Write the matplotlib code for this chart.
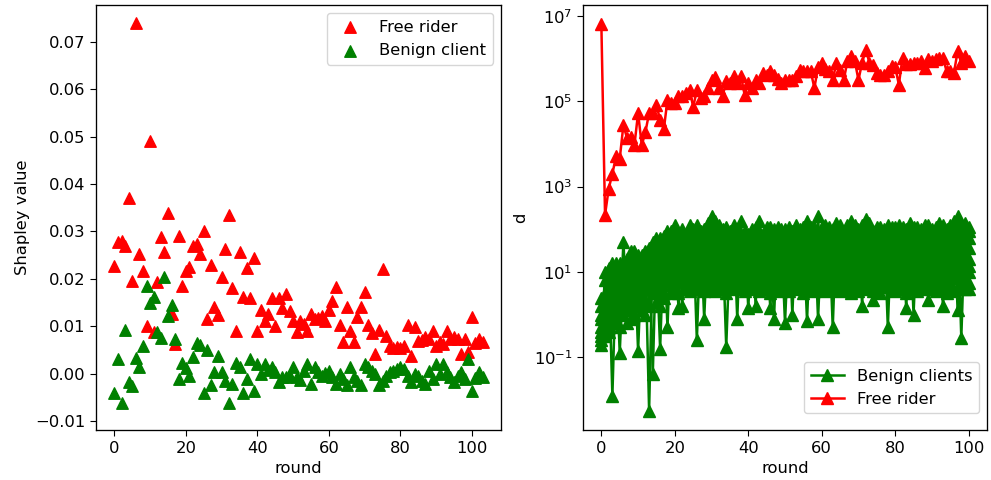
import matplotlib
matplotlib.use("Agg")
import matplotlib.pyplot as plt

plt.rcParams['font.size'] = 11.8
plt.rcParams['axes.linewidth'] = 0.95
plt.rcParams['xtick.major.size'] = 4.1
plt.rcParams['ytick.major.size'] = 4.1
plt.rcParams['ytick.minor.size'] = 2.4

# ---------------- Left panel: Shapley values ----------------
shapley_rounds = list(range(104))

shapley_free_rider = [
    0.0228, 0.0277, 0.028, 0.027, 0.037, 0.0196, 0.074, 0.0253, 0.0217, 0.0101,
    0.049, 0.0087, 0.0193, 0.0288, 0.0256, 0.0338, 0.0126, 0.0063, 0.029, 0.0185,
    0.0217, 0.0224, 0.027, 0.0274, 0.0253, 0.0302, 0.0115, 0.023, 0.014, 0.0124,
    0.0204, 0.0263, 0.0335, 0.018, 0.0091, 0.0256, 0.0161, 0.0223, 0.016, 0.0243,
    0.0089, 0.0134, 0.011, 0.0125, 0.0159, 0.01, 0.0159, 0.0139, 0.0168, 0.0133,
    0.011, 0.0087, 0.0112, 0.0105, 0.0091, 0.0126, 0.0115, 0.0118, 0.0122, 0.0112,
    0.0135, 0.0154, 0.0182, 0.0103, 0.0066, 0.014, 0.0091, 0.0066, 0.0119, 0.014,
    0.0172, 0.0103, 0.0085, 0.0042, 0.0092, 0.0221, 0.008, 0.0059, 0.0055, 0.0057,
    0.0055, 0.0059, 0.0103, 0.0038, 0.0099, 0.0068, 0.007, 0.0077, 0.0073, 0.0091,
    0.0059, 0.0066, 0.0063, 0.0091, 0.0073, 0.0077, 0.0073, 0.0042, 0.0073, 0.0045,
    0.0119, 0.0065, 0.0073, 0.0066]

shapley_benign = [
    -0.004, 0.003, -0.0063, 0.0093, -0.0018, -0.0026, 0.0034, 0.0013, 0.0059, 0.0185,
    0.015, 0.0161, 0.0087, 0.0075, 0.0203, 0.0122, 0.0145, 0.0073, -0.0011, 0.0022,
    0.0012, -0.0005, 0.0035, 0.0065, 0.0061, -0.0041, 0.0049, -0.0025, 0.0003, 0.0038,
    0.0003, -0.0015, -0.0061, -0.0022, 0.0022, 0.0013, -0.0041, -0.0012, 0.0031, -0.0037,
    0.002, -0.0001, 0.002, 0.0008, 0.0015, 0.0003, -0.0018, -0.0008, -0.0008, -0.0006,
    0.0015, -0.0008, -0.0013, 0.0005, 0.002, -0.0022, 0.0013, 0.0003, -0.0004, 0.0002,
    0.0006, -0.0008, -0.0022, -0.0001, -0.0012, -0.0025, 0.0013, -0.0008, -0.0015, -0.0025,
    0.002, 0.0013, 0.0005, -0.0001, -0.0025, -0.0015, -0.0004, 0.0003, 0.0006, 0.0009,
    0.0013, 0.001, -0.0005, -0.0018, -0.0001, -0.0004, -0.0015, -0.0022, 0.0005, -0.0012,
    0.002, -0.0001, 0.002, 0.0003, -0.0008, -0.0018, -0.0004, 0.0003, -0.0011, 0.0031,
    -0.0036, -0.001, 0.0003, -0.0008]

# ---------------- Right panel: d (given as log10 d) ----------------
d_rounds = list(range(101))

free_rider_log_d = [
    6.80, 2.34, 2.95, 3.30, 3.71, 3.65, 4.44, 4.13, 4.17, 3.97,
    4.72, 3.97, 4.28, 4.72, 4.72, 4.91, 4.56, 4.34, 5.03, 4.95,
    4.95, 5.11, 5.13, 5.19, 5.27, 4.87, 5.25, 5.07, 5.11, 5.31,
    5.49, 5.57, 5.31, 5.11, 5.47, 5.43, 5.60, 5.43, 5.60, 5.15,
    5.43, 5.31, 5.50, 5.43, 5.66, 5.62, 5.70, 5.62, 5.52, 5.43,
    5.49, 5.50, 5.50, 5.60, 5.74, 5.70, 5.70, 5.70, 5.31, 5.80,
    5.90, 5.75, 5.70, 5.50, 5.90, 5.74, 5.50, 5.94, 6.05, 5.94,
    5.50, 5.90, 6.21, 5.90, 5.84, 5.66, 5.62, 5.62, 5.70, 5.82,
    5.80, 5.39, 6.02, 5.86, 5.86, 5.90, 5.90, 5.94, 5.78, 5.98,
    5.95, 5.98, 6.02, 6.02, 5.70, 5.70, 5.66, 6.17, 5.90, 6.05,
    5.94]

benign1_log_d = [
    0.4, -0.5, 1.1, -1.9, 1.1, -0.3, 1.7, 0.1, 1.5, 0.0,
    1.4, 0.1, 1.5, 0.2, 1.7, 0.3, 1.7, 0.4, 1.95, 0.5,
    2.1, 0.5, 2.0, 0.6, 2.1, 0.65, 2.1, 0.6, 2.0, 0.65,
    2.3, 0.55, 2.05, 0.6, 2.05, 0.6, 2.1, -0.1, 2.2, 0.55,
    1.85, 0.65, 2.05, 0.55, 1.9, 0.65, 2.0, -0.1, 2.05, 0.55,
    1.9, 0.55, 1.95, 0.6, 2.0, 0.5, 2.2, 0.6, 1.95, 0.65,
    2.05, 0.55, 1.95, -0.3, 2.15, 0.55, 1.9, 0.6, 2.2, 0.6,
    2.0, 0.2, 2.25, 0.65, 1.95, 0.6, 1.9, 0.65, 2.1, 0.6,
    2.05, 0.6, 1.95, 0.5, 2.15, 0.0, 2.05, 0.6, 2.1, 0.35,
    2.0, 0.55, 2.15, 0.6, 2.0, 0.6, 2.0, 0.65, 2.1, 0.6,
    1.95]
benign2_log_d = [
    0.2, -0.4, 0.9, -0.1, 1.2, -0.9, 1.1, 0.3, 1.3, 0.3,
    1.2, 0.4, 1.3, -2.25, 1.5, 0.7, 1.8, 0.5, 1.7, 0.7,
    1.8, 0.15, 1.9, 0.8, 1.85, 0.9, 1.75, 0.75, 1.8, 0.85,
    2.05, 0.7, 2.1, 0.75, 1.8, 0.8, 1.85, 0.85, 1.9, 0.75,
    1.9, 0.8, 1.85, 0.85, 1.75, 0.8, 2.05, 0.7, 1.8, 0.75,
    2.0, 0.8, 1.85, 0.7, 1.7, 0.8, 1.85, 0.75, 2.05, -0.1,
    1.9, 0.7, 2.05, 0.85, 1.95, 0.7, 1.8, 0.75, 1.85, 0.8,
    1.85, 0.8, 2.0, 0.85, 1.8, 0.8, 2.05, 0.7, 1.9, 0.8,
    1.9, 0.7, 2.05, 0.15, 1.95, 0.85, 1.85, 0.8, 1.85, 0.8,
    1.9, 0.7, 1.95, 0.2, 1.85, 0.75, 2.2, 0.1, 1.85, 0.8,
    2.05]
benign3_log_d = [
    0.0, -0.2, 0.7, 0.9, 0.4, 1.1, 0.9, -0.2, 1.4, 1.2,
    0.5, 1.1, 1.4, 0.7, 1.6, 1.4, -0.8, 1.7, 1.5, 0.9,
    1.7, 1.5, 1.1, 1.8, 1.55, 0.85, 1.9, 1.6, 0.9, 1.55,
    1.8, 1.05, 1.5, 1.7, -0.75, 1.6, 1.7, 0.9, 1.55, 1.7,
    1.0, 1.8, 1.55, 0.95, 1.85, 1.6, 0.15, 1.8, 1.6, 1.05,
    1.75, 1.6, 1.0, 1.55, 1.85, 0.95, 1.6, 1.75, 0.95, 1.65,
    1.7, 1.05, 1.8, 1.65, 1.1, 1.6, 1.85, 0.95, 1.6, 1.75,
    1.05, 1.75, 1.65, 0.95, 1.7, 1.55, 1.0, 1.65, 1.8, 1.0,
    1.75, 1.6, 1.0, 1.7, 1.55, 1.05, 1.65, 1.8, 1.05, 1.75,
    1.7, 0.95, 1.6, 1.75, 1.0, 1.8, 1.6, 1.0, 1.9, 1.7,
    1.0]
benign4_log_d = [
    -0.1, 0.3, 0.4, 0.6, 1.0, 0.7, 1.2, 0.8, 1.0, 1.3,
    1.0, 1.2, 1.0, 1.3, 1.2, 1.5, 1.3, 1.4, 1.6, 1.3,
    1.5, 1.6, 1.4, 1.5, 1.7, 1.4, 1.5, 1.7, 1.45, 1.6,
    1.55, 1.4, 1.7, 1.45, 1.6, 1.75, 1.45, 1.55, 1.7, 1.4,
    1.5, 1.65, 1.4, 1.55, 1.6, 1.45, 1.55, 1.65, 1.45, 1.6,
    1.5, 1.65, 1.45, 1.6, 1.55, 1.4, 1.65, 1.5, 1.6, 1.45,
    1.55, 1.7, 1.45, 1.6, 1.5, 1.65, 1.4, 1.55, 1.7, 1.45,
    1.55, 1.45, 1.6, 1.5, 1.65, 1.45, 1.55, 1.7, 1.5, 1.6,
    1.45, 1.55, 1.6, 1.5, 1.65, 1.45, 1.55, 1.6, 1.7, 1.45,
    1.6, 1.5, 1.65, 1.45, 1.55, 1.6, 1.5, 1.65, 1.45, 1.6,
    1.55]
benign5_log_d = [
    -0.3, 0.1, 0.2, 0.5, 0.6, 0.4, 0.7, 0.9, 0.6, 0.8,
    1.1, 0.8, 1.1, 0.9, 1.3, 1.1, 1.2, 1.0, 1.3, 1.5,
    1.3, 1.4, 1.2, 1.35, 1.25, 1.5, 1.3, 1.2, 1.4, 1.3,
    1.4, 1.5, 1.25, 1.35, 1.2, 1.45, 1.3, 1.4, 1.25, 1.5,
    1.35, 1.2, 1.45, 1.3, 1.4, 1.25, 1.35, 1.45, 1.3, 1.2,
    1.35, 1.45, 1.25, 1.4, 1.3, 1.5, 1.2, 1.35, 1.45, 1.3,
    1.4, 1.25, 1.35, 1.45, 1.3, 1.2, 1.4, 1.35, 1.25, 1.5,
    1.3, 1.35, 1.45, 1.25, 1.4, 1.3, 1.2, 1.45, 1.35, 1.25,
    1.35, 1.45, 1.3, 1.25, 1.4, 1.35, 1.3, 1.45, 1.25, 1.35,
    1.45, 1.3, 1.25, 1.4, 1.35, 1.45, 1.3, 1.2, 1.4, 1.35,
    1.3]
benign6_log_d = [
    -0.4, 0.0, 0.1, 0.3, 0.2, 0.6, 0.4, 0.5, 0.8, 0.6,
    0.7, 1.0, 0.7, 1.1, 0.9, 0.8, 1.0, 1.2, 1.0, 1.1,
    1.2, 1.1, 1.3, 1.0, 1.15, 1.2, 1.05, 1.3, 1.1, 1.2,
    1.1, 1.25, 1.15, 1.0, 1.3, 1.1, 1.2, 1.05, 1.3, 1.15,
    1.2, 1.05, 1.1, 1.25, 1.15, 1.3, 1.05, 1.1, 1.2, 1.3,
    1.15, 1.0, 1.2, 1.1, 1.25, 1.05, 1.15, 1.3, 1.1, 1.2,
    1.05, 1.15, 1.2, 1.1, 1.0, 1.3, 1.15, 1.05, 1.2, 1.1,
    1.2, 1.05, 1.15, 1.3, 1.1, 1.2, 1.05, 1.15, 1.2, 1.1,
    1.15, 1.2, 1.05, 1.3, 1.1, 1.2, 1.15, 1.05, 1.2, 1.25,
    1.1, 1.15, 1.2, 1.05, 1.25, 1.1, 1.2, 1.15, 1.05, 1.2,
    1.15]
benign7_log_d = [
    -0.5, 0.5, 0.0, 0.1, 0.8, 0.2, 0.5, 1.0, 0.4, 0.5,
    1.3, 0.6, 0.9, 1.2, 0.6, 1.0, 1.5, 0.8, 1.1, 1.6,
    1.0, 0.9, 1.6, 0.95, 1.0, 1.7, 1.1, 1.0, 1.7, 1.05,
    0.95, 1.65, 0.9, 1.1, 1.85, 0.95, 1.0, 1.9, 1.05, 0.95,
    1.6, 0.9, 1.05, 1.7, 1.1, 0.9, 1.7, 1.0, 0.95, 1.7,
    0.9, 1.05, 1.8, 0.85, 1.05, 1.7, 0.9, 1.1, 1.8, 1.0,
    0.95, 1.55, 0.9, 1.0, 1.75, 0.9, 1.0, 1.7, 0.55, 1.0,
    1.6, 0.9, 1.0, 1.8, 1.05, 0.9, 1.75, 1.1, 0.95, 1.6,
    0.9, 1.05, 1.8, 0.95, 0.9, 1.75, 1.0, 0.9, 1.6, 0.95,
    1.0, 1.85, 1.05, 0.9, 1.65, 1.05, 0.95, 1.75, 0.9, 1.05,
    1.8]
benign8_log_d = [
    -0.6, 0.8, -0.3, 1.0, 0.0, 1.0, 0.2, 1.2, 0.1, 1.5,
    0.2, 1.4, 0.3, 1.55, 0.5, 1.6, 0.6, 1.6, 0.8, 1.95,
    0.8, 1.75, 0.9, 1.7, 0.7, 2.0, 0.8, 1.95, -0.1, 1.9,
    0.8, 1.8, 0.85, 2.0, 0.9, 1.95, 0.7, 1.7, 0.8, 1.95,
    0.15, 1.75, 0.7, 1.95, 0.75, 1.9, 0.9, 2.0, 0.8, 1.85,
    -0.2, 1.8, 0.75, 1.95, 0.85, 2.05, 0.7, 1.9, 0.85, 1.8,
    0.8, 1.85, 0.75, 1.8, 0.8, 2.1, 0.8, 1.95, 0.85, 2.1,
    0.75, 1.9, 0.7, 2.15, 0.35, 1.9, 0.75, 1.85, 0.85, 2.05,
    0.75, 1.85, 0.8, 1.8, 0.75, 2.05, 0.7, 1.9, 0.75, 2.1,
    0.85, 1.8, 0.75, 2.1, 0.8, 1.9, 0.85, 1.95, 0.7, 2.15,
    0.75]
benign9_log_d = [
    -0.7, 1.0, -0.4, 1.2, -0.2, 1.2, 0.0, 1.3, -0.1, 1.4,
    -0.85, 1.3, 0.0, 1.5, -1.4, 1.8, 0.2, 1.85, -0.3, 1.9,
    0.6, 1.9, 0.2, 1.85, 0.55, 1.95, -0.6, 1.9, 0.55, 2.15,
    0.6, 2.2, 0.65, 1.95, 0.5, 1.9, 0.65, 2.0, 0.6, 1.9,
    0.6, 2.0, 0.2, 2.2, 0.6, 2.05, 0.5, 1.95, 0.6, 2.0,
    0.6, 2.05, 0.0, 2.1, 0.65, 1.9, -0.15, 2.05, 0.55, 2.3,
    0.6, 2.1, 0.65, 2.0, 0.6, 2.0, 0.65, 2.1, 0.5, 2.05,
    0.55, 2.1, 0.6, 2.0, 0.55, 2.05, 0.5, 2.0, -0.3, 1.95,
    0.55, 2.1, 0.65, 2.0, 0.6, 1.9, 0.55, 2.0, 0.65, 1.95,
    0.6, 2.05, 0.65, 1.95, 0.5, 2.1, 0.55, 2.3, -0.55, 2.05,
    0.6]

benign_clients_log_d = [benign1_log_d, benign2_log_d, benign3_log_d, benign4_log_d,
                        benign5_log_d, benign6_log_d, benign7_log_d, benign8_log_d,
                        benign9_log_d]

fig = plt.figure(figsize=(9.91, 4.8), dpi=100)
ax1 = fig.add_axes([96/991, 1-430/480, 405/991, 425/480])
ax2 = fig.add_axes([583/991, 1-430/480, 404/991, 425/480])

ax1.scatter(shapley_rounds, shapley_free_rider, marker='^', color='red', s=68, label='Free rider')
ax1.scatter(shapley_rounds, shapley_benign, marker='^', color='green', s=68, label='Benign client')
ax1.set_ylim(-0.0119, 0.0778)
ax1.set_xlabel('round')
ax1.set_ylabel('Shapley value')
ax1.legend(loc='upper right')

for i, cl in enumerate(benign_clients_log_d):
    ax2.plot(d_rounds, [10 ** v for v in cl], marker='^', color='green', markersize=8.5,
             linewidth=1.8, label='Benign clients' if i == 0 else None)
ax2.plot(d_rounds, [10 ** v for v in free_rider_log_d], marker='^', color='red', markersize=8.5,
         linewidth=1.8, label='Free rider')
ax2.set_yscale('log')
ax2.set_xlabel('round')
ax2.set_ylabel('d')
ax2.legend(loc='lower right', bbox_to_anchor=(1.0, 0.02))

fig.savefig('out.png', dpi=100)
